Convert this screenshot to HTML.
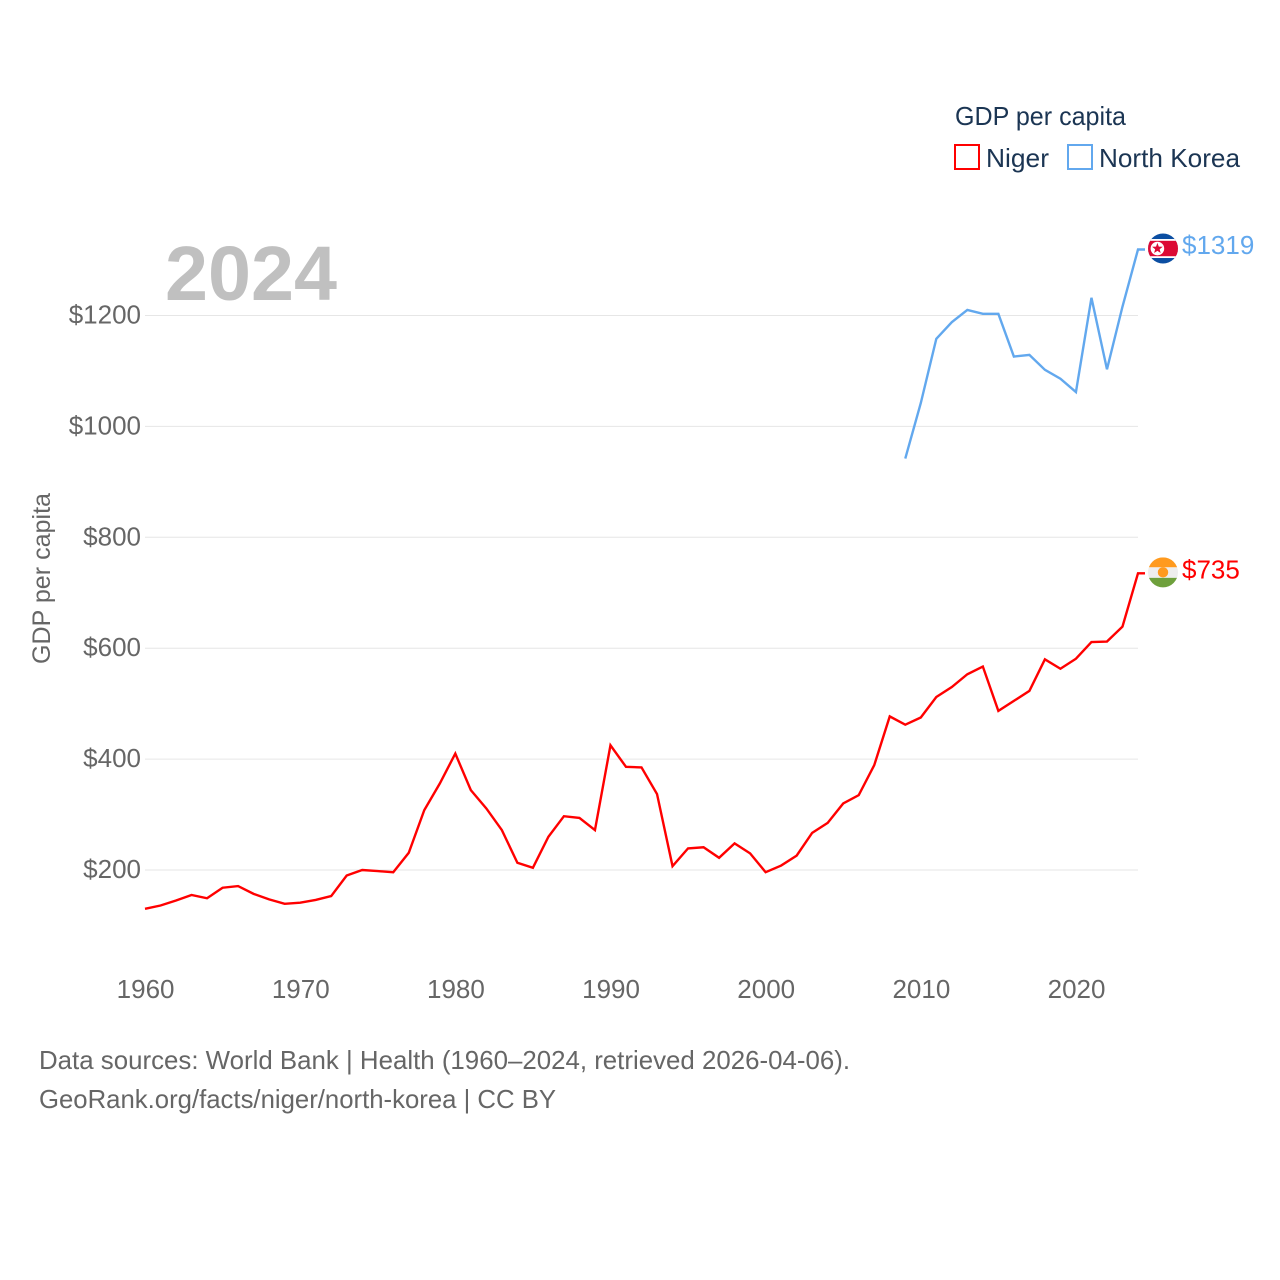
<!DOCTYPE html>
<html lang="en">
<head>
<meta charset="utf-8">
<title>GDP per capita: Niger and North Korea</title>
<style>
html,body{margin:0;padding:0;background:#fff;width:1280px;height:1280px;overflow:hidden}
svg{display:block}
text{font-family:"Liberation Sans",sans-serif}
</style>
</head>
<body>
<svg id="chart" xmlns="http://www.w3.org/2000/svg" width="1280" height="1280" viewBox="0 0 1280 1280">
  <defs>
    <clipPath id="flag-clip-kp"><circle id="kp-clip-circle" cx="1163" cy="248" r="15"/></clipPath>
    <clipPath id="flag-clip-ne"><circle id="ne-clip-circle" cx="1163" cy="572" r="15"/></clipPath>
  </defs>
  <rect width="1280" height="1280" fill="#ffffff"/>
  <g id="grid"></g>
  <g id="y-axis"></g>
  <g id="x-axis"></g>
  <text x="165" y="300" font-size="77" font-weight="700" fill="#c0c0c0" textLength="172" lengthAdjust="spacingAndGlyphs">2024</text>
  <text transform="translate(50,664) rotate(-90)" font-size="25" fill="#666666" textLength="171" lengthAdjust="spacingAndGlyphs">GDP per capita</text>
  <g id="series"></g>
  <g id="flags"></g>
  <g>
    <text x="955" y="125" font-size="26" fill="#1b3553" textLength="171" lengthAdjust="spacingAndGlyphs">GDP per capita</text>
    <rect x="955" y="145" width="24" height="24" fill="none" stroke="#ff0000" stroke-width="2"/>
    <text x="986" y="167" font-size="26" fill="#1b3553" textLength="63" lengthAdjust="spacingAndGlyphs">Niger</text>
    <rect x="1068" y="145" width="24" height="24" fill="none" stroke="#62a8ee" stroke-width="2"/>
    <text x="1099" y="167" font-size="26" fill="#1b3553" textLength="141" lengthAdjust="spacingAndGlyphs">North Korea</text>
  </g>
  <g>
    <text x="39" y="1069" font-size="26" fill="#666666" textLength="811" lengthAdjust="spacingAndGlyphs">Data sources: World Bank | Health (1960–2024, retrieved 2026-04-06).</text>
    <text x="39" y="1108" font-size="26" fill="#666666" textLength="517" lengthAdjust="spacingAndGlyphs">GeoRank.org/facts/niger/north-korea | CC BY</text>
  </g>
</svg>
<script>
const yTicks = [200, 400, 600, 800, 1000, 1200];
const xTicks = [1960, 1970, 1980, 1990, 2000, 2010, 2020];
const nigerStartYear = 1960;
const nigerValues = [130,136,145,155,149,168,171,157,147,139,141,146,153,190,200,198,196,231,308,356,410,344,311,272,213,204,260,297,294,272,425,386,385,337,207,239,241,222,248,230,196,208,226,267,285,320,335,389,477,462,475,512,530,553,567,487,505,523,580,563,581,611,612,639,735];
const northKoreaStartYear = 2009;
const northKoreaValues = [942,1042,1158,1188,1210,1203,1203,1126,1129,1102,1086,1062,1232,1103,1216,1319];

const NS = 'http://www.w3.org/2000/svg';
const xScale = function (year) { return 145 + (year - 1960) * (1138 - 145) / 64; };
const yScale = function (value) { return 870 - (value - 200) * 0.5545; };
const make = function (tag, attrs, parent) {
  const el = document.createElementNS(NS, tag);
  for (const k in attrs) el.setAttribute(k, attrs[k]);
  parent.appendChild(el);
  return el;
};

const grid = document.getElementById('grid');
const yAxis = document.getElementById('y-axis');
const xAxis = document.getElementById('x-axis');
yTicks.forEach(function (t) {
  const line = make('line', {x1: 145, x2: 1138, y1: yScale(t), y2: yScale(t), stroke: '#e6e6e6', 'stroke-width': 1}, grid);
  
  
  const label = make('text', {x: 141, y: yScale(t) + 8, 'text-anchor': 'end', 'font-size': 26, fill: '#666666'}, yAxis);
  label.textContent = '$' + t;
  
  
});
xTicks.forEach(function (t) {
  const label = make('text', {x: xScale(t) + 0.6, y: 998, 'text-anchor': 'middle', 'font-size': 26, fill: '#666666'}, xAxis);
  label.textContent = t;
  
  
});

const seriesGroup = document.getElementById('series');
const flags = document.getElementById('flags');

function drawSeries(values, startYear, color) {
  const pts = values.map(function (v, i) { return xScale(startYear + i).toFixed(2) + ',' + yScale(v).toFixed(2); });
  const last = values[values.length - 1];
  const lastX = xScale(startYear + values.length - 1);
  pts.push((lastX + 7).toFixed(2) + ',' + yScale(last).toFixed(2));
  return make('polyline', {points: pts.join(' '), fill: 'none', stroke: color, 'stroke-width': 2.4, 'stroke-linejoin': 'miter'}, seriesGroup);
}

const nigerLine = drawSeries(nigerValues, nigerStartYear, '#ff0000');


const northKoreaLine = drawSeries(northKoreaValues, northKoreaStartYear, '#62a8ee');



function starPoints(cx, cy, R) {
  const out = [];
  for (let i = 0; i < 10; i++) {
    const r = i % 2 ? R * 0.42 : R;
    const a = -Math.PI / 2 + i * Math.PI / 5;
    out.push((cx + r * Math.cos(a)).toFixed(2) + ',' + (cy + r * Math.sin(a)).toFixed(2));
  }
  return out.join(' ');
}

/* North Korea flag */
const kpLastY = yScale(northKoreaValues[northKoreaValues.length - 1]);
const kpCy = kpLastY - 1;
document.getElementById('kp-clip-circle').setAttribute('cy', kpCy);
const kpFlag = make('g', {'clip-path': 'url(#flag-clip-kp)'}, flags);


make('rect', {x: 1148, y: kpCy - 15, width: 30, height: 30, fill: '#0b4ea2'}, kpFlag);
make('rect', {x: 1148, y: kpCy - 9.5, width: 30, height: 19, fill: '#ffffff'}, kpFlag);
make('rect', {x: 1148, y: kpCy - 7.7, width: 30, height: 15.4, fill: '#dc0a35'}, kpFlag);
make('circle', {cx: 1157.4, cy: kpCy, r: 6.8, fill: '#ffffff'}, kpFlag);
make('polygon', {points: starPoints(1157.4, kpCy, 5.6), fill: '#dc0a35'}, kpFlag);
const kpLabel = make('text', {x: 1182, y: kpLastY + 4.5, 'font-size': 26, fill: '#62a8ee'}, flags);
kpLabel.textContent = '$' + northKoreaValues[northKoreaValues.length - 1];



/* Niger flag */
const neLastY = yScale(nigerValues[nigerValues.length - 1]);
const neCy = neLastY - 1;
document.getElementById('ne-clip-circle').setAttribute('cy', neCy);
const neFlag = make('g', {'clip-path': 'url(#flag-clip-ne)'}, flags);


make('rect', {x: 1148, y: neCy - 15, width: 30, height: 10, fill: '#ff9a1e'}, neFlag);
make('rect', {x: 1148, y: neCy - 5, width: 30, height: 10.5, fill: '#eeeeee'}, neFlag);
make('rect', {x: 1148, y: neCy + 5.5, width: 30, height: 10, fill: '#6ea03c'}, neFlag);
make('circle', {cx: 1163, cy: neCy, r: 5.2, fill: '#ff9a1e'}, neFlag);
const neLabel = make('text', {x: 1182, y: neLastY + 5, 'font-size': 26, fill: '#ff0000'}, flags);
neLabel.textContent = '$' + nigerValues[nigerValues.length - 1];


</script>
</body>
</html>
